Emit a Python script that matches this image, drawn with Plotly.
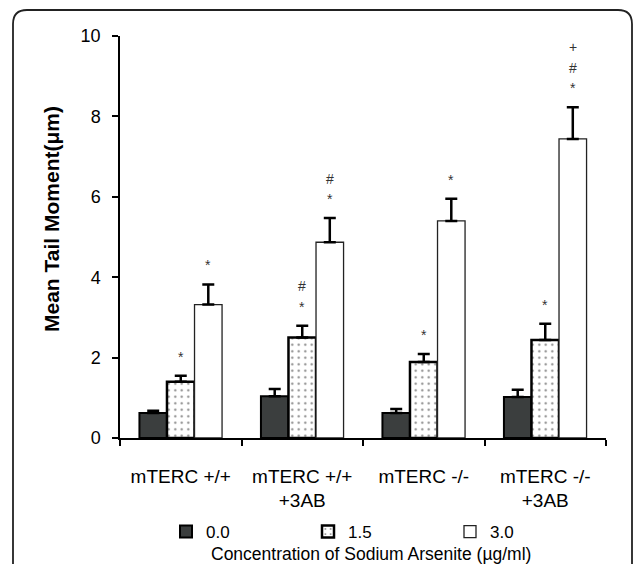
import plotly.graph_objects as go

# ---------------- data ----------------
groups = ["mTERC +/+", "mTERC +/+<br>+3AB", "mTERC -/-", "mTERC -/-<br>+3AB"]
conc_labels = ["0.0", "1.5", "3.0"]

means_00 = [0.62, 1.04, 0.62, 1.02]
means_15 = [1.40, 2.50, 1.89, 2.44]
means_30 = [3.32, 4.87, 5.40, 7.44]

err_00 = [0.06, 0.18, 0.10, 0.18]
err_15 = [0.15, 0.29, 0.20, 0.40]
err_30 = [0.50, 0.60, 0.55, 0.79]

marks_00 = [[], [], [], []]
marks_15 = [["*"], ["*", "#"], ["*"], ["*"]]
marks_30 = [["*"], ["*", "#"], ["*"], ["*", "#", "+"]]

y_title = "Mean Tail Moment(\u03bcm)"
x_title = "Concentration of Sodium Arsenite (\u00b5g/ml)"

# ---------------- layout constants ----------------
W, H = 636, 564
ML, MR, MT, MB = 120, 30, 36, 126
PW, PH = W - ML - MR, H - MT - MB
FONT = "Liberation Sans, Arial, sans-serif"
BARGAP = 0.32


def px_x(px):
    return (px - ML) / PW


def px_y(py):
    return (H - MB - py) / PH


fig = go.Figure()

series = [
    (means_00, err_00, dict(color="#3b3e3e", line=dict(color="#000", width=2))),
    (means_15, err_15, dict(color="#ffffff", line=dict(color="#000", width=2.5),
                            pattern=dict(shape=".", fgcolor="#111", bgcolor="#fff",
                                         size=6.5, solidity=0.1))),
    (means_30, err_30, dict(color="#ffffff", line=dict(color="#222", width=1.3))),
]

for label, (m, e, mk) in zip(conc_labels, series):
    fig.add_trace(go.Bar(
        x=groups, y=m, name=label, marker=mk,
        error_y=dict(type="data", array=e, arrayminus=[0] * len(e), symmetric=False,
                     color="#000", thickness=2.5, width=6),
    ))

# significance marks
bw = (1 - BARGAP) / 3
annotations = []
for k, (m, e, marks) in enumerate([(means_00, err_00, marks_00),
                                   (means_15, err_15, marks_15),
                                   (means_30, err_30, marks_30)]):
    for i in range(len(groups)):
        for j, s in enumerate(marks[i]):
            annotations.append(dict(
                x=i + (k - 1) * bw, y=m[i] + e[i], xref="x", yref="y",
                text=s, showarrow=False, yanchor="middle",
                yshift=19 + 20.5 * j,
                font=dict(family=FONT, size=14, color="#333"),
            ))

annotations.append(dict(
    x=px_x(51), y=px_y(219), xref="paper", yref="paper", text="<b>" + y_title + "</b>",
    textangle=-90, showarrow=False, xanchor="center", yanchor="middle",
    font=dict(family=FONT, size=21, color="#000"),
))
annotations.append(dict(
    x=px_x(371), y=px_y(554), xref="paper", yref="paper", text=x_title,
    showarrow=False, xanchor="center", yanchor="middle",
    font=dict(family=FONT, size=17.5, color="#000"),
))

# rounded border
r = 14
x0, x1, y0, y1 = 13, 632, 10, 590
path = (f"M {px_x(x0)},{px_y(y1)} L {px_x(x0)},{px_y(y0 + r)} "
        f"Q {px_x(x0)},{px_y(y0)} {px_x(x0 + r)},{px_y(y0)} "
        f"L {px_x(x1 - r)},{px_y(y0)} "
        f"Q {px_x(x1)},{px_y(y0)} {px_x(x1)},{px_y(y0 + r)} "
        f"L {px_x(x1)},{px_y(y1)}")

fig.update_layout(
    width=W, height=H,
    margin=dict(l=ML, r=MR, t=MT, b=MB, autoexpand=False),
    paper_bgcolor="#fff", plot_bgcolor="#fff",
    barmode="group", bargap=BARGAP, bargroupgap=0,
    font=dict(family=FONT, color="#000"),
    showlegend=True,
    legend=dict(orientation="h", xref="container", yref="container",
                x=166 / W, y=(H - 532) / H, xanchor="left", yanchor="middle",
                font=dict(family=FONT, size=17), entrywidth=97, itemwidth=30,
                bgcolor="rgba(0,0,0,0)", traceorder="normal"),
    annotations=annotations,
    shapes=[dict(type="path", xref="paper", yref="paper", path=path,
                 line=dict(color="#222", width=1.8))],
    xaxis=dict(showline=True, linecolor="#000", linewidth=1.5, ticks="outside",
               tickson="boundaries", ticklen=6, tickcolor="#000", tickwidth=1.5,
               showgrid=False, ticklabelstandoff=20, tickfont=dict(family=FONT, size=19)),
    yaxis=dict(range=[0, 10], dtick=2, showline=True, linecolor="#000", linewidth=1.5,
               ticks="outside", ticklen=6, tickcolor="#000", tickwidth=1.5,
               showgrid=False, zeroline=False, ticklabelstandoff=8,
               tickfont=dict(family=FONT, size=18)),
)

fig.write_html("out.html", config={"displayModeBar": False},
               post_script="document.body.style.margin='0';document.body.style.overflow='hidden';")
